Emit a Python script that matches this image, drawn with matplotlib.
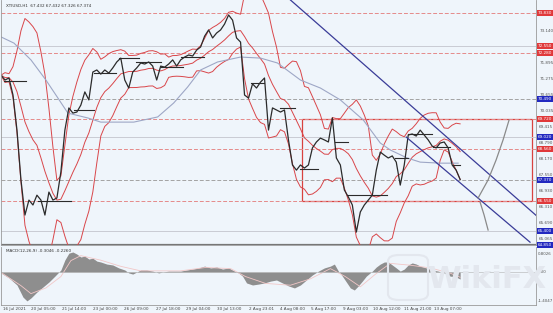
import numpy as np
import pandas as pd
import matplotlib
matplotlib.use("Agg")
import matplotlib.pyplot as plt
from matplotlib.patches import Rectangle, FancyBboxPatch
import matplotlib.transforms as mtransforms

# ---------------- data ----------------
symbol_title = "XTIUSD,H1  67.432 67.432 67.326 67.374"
macd_title = "MACD(12,26,9) -0.3046 -0.2260"

bar_step = 4  # hours between samples
close = [71.42, 71.23, 71.31, 70.65, 69.29, 67.36, 66.00, 66.58, 66.39, 66.77,
         66.58, 66.00, 66.89, 66.58, 66.66, 67.67, 69.29, 70.15, 69.95, 69.99,
         70.26, 70.77, 70.46, 71.54, 71.62, 71.46, 71.62, 71.50, 71.70, 71.93,
         72.08, 71.23, 70.92, 71.54, 71.70, 71.89, 71.85, 71.93, 71.77, 71.23,
         71.77, 71.73, 71.85, 72.01, 71.77, 72.01, 72.12, 72.20, 72.16, 72.39,
         72.51, 72.93, 73.17, 72.86, 73.05, 73.17, 73.40, 73.75, 73.55, 72.86,
         72.70, 70.65, 70.53, 71.08, 70.92, 71.15, 71.31, 69.29, 70.15, 70.07,
         69.99, 70.07, 68.91, 67.94, 67.74, 67.94, 67.82, 67.94, 68.60, 68.83,
         68.98, 68.91, 68.83, 69.76, 68.21, 67.94, 66.97, 66.70, 66.39, 65.34,
         66.12, 66.39, 66.58, 66.77, 67.74, 68.44, 68.32, 68.21, 68.29, 68.05,
         67.16, 67.94, 69.10, 69.14, 69.06, 69.29, 69.10, 68.91, 68.67, 68.60,
         68.79, 68.83, 68.60, 67.94, 67.74, 67.38]

bb_period = 10
bb_dev = 2.0

ma_x = [0, 13, 20, 30, 45, 55, 67, 87, 100, 133, 157, 173, 187, 200, 217, 240,
        260, 277, 300, 320, 340, 363, 380, 390, 407, 420, 440, 458]
ma_v = [72.90, 72.66, 72.39, 72.01, 71.23, 70.65, 69.95, 69.76, 69.60, 69.60,
        69.80, 70.34, 70.96, 71.62, 71.93, 72.12, 72.08, 71.89, 71.23, 70.92,
        70.46, 69.68, 68.79, 68.52, 68.21, 68.05, 68.01, 68.01]

seg_start = [3, 37, 73, 93, 118, 135, 160, 180, 250, 280, 300, 335, 347, 395, 408, 433, 453]
seg_end = [25, 70, 93, 115, 138, 160, 182, 203, 263, 295, 318, 348, 387, 408, 432, 450, 460]
seg_level = [71.19, 66.55, 70.07, 71.50, 72.08, 71.93, 71.73, 72.12, 71.11, 70.15,
             67.78, 68.83, 66.77, 68.21, 69.14, 68.63, 67.94]

level_price = [73.83, 72.55, 72.28, 70.49, 69.72, 69.02, 68.56, 67.37, 66.55, 65.40, 64.85]
level_kind = ["rd", "gs", "rd", "gd", "rd", "gs", "rd", "gd", "rd", "gs", "dk"]
level_tag = ["r", "r", "r", "b", "r", "b", "r", "b", "r", "b", "b"]

box_x = [302, 532]
box_y = [66.55, 69.72]

trend_upper_x = [290, 536]
trend_upper_y = [74.33, 65.99]
trend_lower_x = [406, 530]
trend_lower_y = [69.02, 64.95]

proj_up_x = [478, 488, 496, 503, 509]
proj_up_y = [66.66, 67.36, 68.13, 68.91, 69.68]
proj_dn_x = [480, 484, 488]
proj_dn_y = [66.50, 66.00, 65.42]

price_ticks = [73.760, 73.140, 72.515, 71.895, 71.275, 70.655, 70.035, 69.415,
               68.790, 68.170, 67.550, 66.930, 66.310, 65.690, 65.065]

macd_x = [0, 8, 16, 22, 26, 30, 36, 42, 48, 54, 60, 64, 68, 72, 76, 80, 84, 88, 92, 96,
          100, 106, 112, 118, 124, 128, 132, 136, 140, 146, 152, 158, 162, 168, 174, 180,
          186, 192, 198, 204, 210, 216, 222, 228, 234, 238, 242, 246, 252, 258, 264, 270,
          276, 282, 288, 294, 300, 306, 312, 318, 324, 330, 334, 338, 342, 346, 350, 354,
          358, 362, 366, 372, 376, 380, 384, 388, 392, 396, 400, 404, 408, 412, 416, 420,
          426, 432, 438, 444, 450, 456, 460]
macd_v = [-0.04, -0.26, -0.57, -1.10, -1.27, -1.14, -0.88, -0.66, -0.44, -0.18, 0.09,
          0.53, 0.83, 0.88, 0.79, 0.66, 0.70, 0.57, 0.61, 0.48, 0.44, 0.35, 0.31, 0.18,
          0.09, -0.04, -0.09, 0.00, 0.09, 0.09, 0.04, -0.04, 0.00, 0.04, 0.04, 0.04, 0.09,
          0.13, 0.18, 0.26, 0.18, 0.22, 0.13, 0.18, 0.04, -0.04, -0.18, -0.48, -0.57,
          -0.53, -0.48, -0.40, -0.35, -0.48, -0.61, -0.70, -0.57, -0.35, -0.13, 0.04,
          0.18, 0.26, 0.35, 0.04, -0.18, -0.44, -0.70, -0.79, -0.61, -0.40, -0.18, 0.04,
          0.22, 0.35, 0.44, 0.44, 0.31, 0.18, 0.04, 0.13, 0.31, 0.40, 0.35, 0.26, 0.18,
          0.09, 0.04, -0.04, -0.18, -0.22, -0.31]
sig_x = [0, 20, 30, 45, 60, 70, 80, 100, 120, 140, 180, 205, 230, 245, 265, 290, 310,
         330, 345, 360, 375, 390, 410, 430, 450, 460]
sig_v = [-0.02, -0.60, -0.95, -0.70, -0.20, 0.50, 0.72, 0.52, 0.25, 0.05, 0.05, 0.20,
         0.15, -0.20, -0.50, -0.58, -0.30, 0.15, -0.20, -0.65, -0.10, 0.38, 0.30, 0.18,
         -0.05, -0.23]

time_pos = [2, 42, 73, 104, 136, 167, 198, 229, 261, 292, 323, 355, 386, 417, 448]
time_lbl = ["16 Jul 2021", "20 Jul 05:00", "21 Jul 14:00", "23 Jul 00:00", "26 Jul 09:00",
            "27 Jul 18:00", "29 Jul 04:00", "30 Jul 13:00", "2 Aug 23:01", "4 Aug 08:00",
            "5 Aug 17:00", "9 Aug 03:00", "10 Aug 12:00", "11 Aug 21:00", "13 Aug 07:00"]

# ---------------- style ----------------
BG = "#eff5fb"
RED = "#e0393b"
BLUE = "#2229c0"
W, H = 553, 313
fig = plt.figure(figsize=(W / 100, H / 100), dpi=100, facecolor=BG)

def fx(px):
    return px / W

def fy(py):
    return 1 - py / H

ax = fig.add_axes([fx(1), fy(245), fx(535), fy(0) - fy(245)], facecolor=BG)
axm = fig.add_axes([fx(1), fy(305), fx(535), fy(247) - fy(305)], facecolor=BG)

XMAX = 536
for a in (ax, axm):
    a.set_xlim(0, XMAX)
    a.set_xticks([])
    a.set_yticks([])
    for s in a.spines.values():
        s.set_color("#9a9a9a")
        s.set_linewidth(0.6)
    a.spines["top"].set_visible(False)

ax.set_ylim(64.84, 74.33)

x = np.arange(len(close)) * bar_step
cs = pd.Series(close)
mid = cs.rolling(bb_period, min_periods=1).mean()
sd = cs.rolling(bb_period, min_periods=1).std(ddof=0).fillna(0)
up = mid + bb_dev * sd
lo = mid - bb_dev * sd

for p, k in zip(level_price, level_kind):
    if k == "rd":
        ax.axhline(p, color="#e58a8a", lw=0.7, ls=(0, (4, 2)))
    elif k == "gd":
        ax.axhline(p, color="#a3a3a3", lw=0.7, ls=(0, (4, 2)))
    elif k == "gs":
        ax.axhline(p, color="#c9cbd3", lw=0.7)
    else:
        ax.axhline(p, color="#777777", lw=1.6)

ax.add_patch(Rectangle((box_x[0], box_y[0]), box_x[1] - box_x[0], box_y[1] - box_y[0],
                       fill=False, ec="#d8423f", lw=0.9))

ax.plot(x, up, color="#d9464a", lw=0.7)
ax.plot(x, mid, color="#d9464a", lw=0.7)
ax.plot(x, lo, color="#d9464a", lw=0.7)
ax.plot(ma_x, ma_v, color="#9ea7c6", lw=0.8)

ax.plot(x, close, color="#2b2b2b", lw=0.9)
for s0, s1, lv in zip(seg_start, seg_end, seg_level):
    ax.plot([s0, s1], [lv, lv], color="#2b2b2b", lw=0.8)

ax.plot(trend_upper_x, trend_upper_y, color="#3a3c98", lw=0.9)
ax.plot(trend_lower_x, trend_lower_y, color="#3a3c98", lw=0.9)
ax.plot(proj_up_x, proj_up_y, color="#8a8a8a", lw=0.9)
ax.plot(proj_dn_x, proj_dn_y, color="#8a8a8a", lw=0.9)

trans = mtransforms.blended_transform_factory(ax.transAxes, ax.transData)
for t in price_ticks:
    ax.text(1.006, t, f"{t:.3f}", transform=trans, fontsize=3.0, color="#555555",
            va="center", ha="left", clip_on=False, zorder=5)
for p, tg in zip(level_price, level_tag):
    ax.text(1.004, p, f"{p:.3f}", transform=trans, fontsize=3.0, color="white",
            va="center", ha="left", clip_on=False, zorder=6,
            bbox=dict(boxstyle="square,pad=0.25", fc=RED if tg == "r" else BLUE, ec="none"))

ax.text(0.01, 0.985, symbol_title, transform=ax.transAxes, fontsize=3.0, color="#333333",
        va="top", ha="left")

axm.set_ylim(-1.45, 1.10)
axm.fill_between(macd_x, 0, macd_v, color="#8e8e8e", lw=0)
axm.plot(sig_x, sig_v, color="#f2c7c7", lw=0.6)
axm.axhline(0, color="#b0b0b0", lw=0.4)
transm = mtransforms.blended_transform_factory(axm.transAxes, axm.transData)
for v, s in [(0.80, "0.8026"), (0.0, "0.00"), (-1.28, "-1.4047")]:
    axm.text(1.003, v, s, transform=transm, fontsize=2.9, color="#555555",
             va="center", ha="left", clip_on=False)
axm.text(0.01, 0.96, macd_title, transform=axm.transAxes, fontsize=3.0, color="#333333",
         va="top", ha="left")

transt = mtransforms.blended_transform_factory(axm.transData, fig.transFigure)
for i, (p, s) in enumerate(zip(time_pos, time_lbl)):
    axm.text(p, fy(309), s, transform=transt, fontsize=3.0, color="#444444",
             va="center", ha="left" if i == 0 else "center", clip_on=False)

fig.patches.append(FancyBboxPatch((fx(388), fy(300)), fx(40), fy(255) - fy(300),
                                  boxstyle="round,pad=0.0,rounding_size=0.02",
                                  transform=fig.transFigure, fc="none", ec="#e3e7ee", lw=1.5))
fig.text(fx(487), fy(279), "WikiFX", fontsize=22, color="#e3e7ee", ha="center",
         va="center", fontweight="bold")

fig.savefig("out.png", dpi=100, facecolor=BG)
